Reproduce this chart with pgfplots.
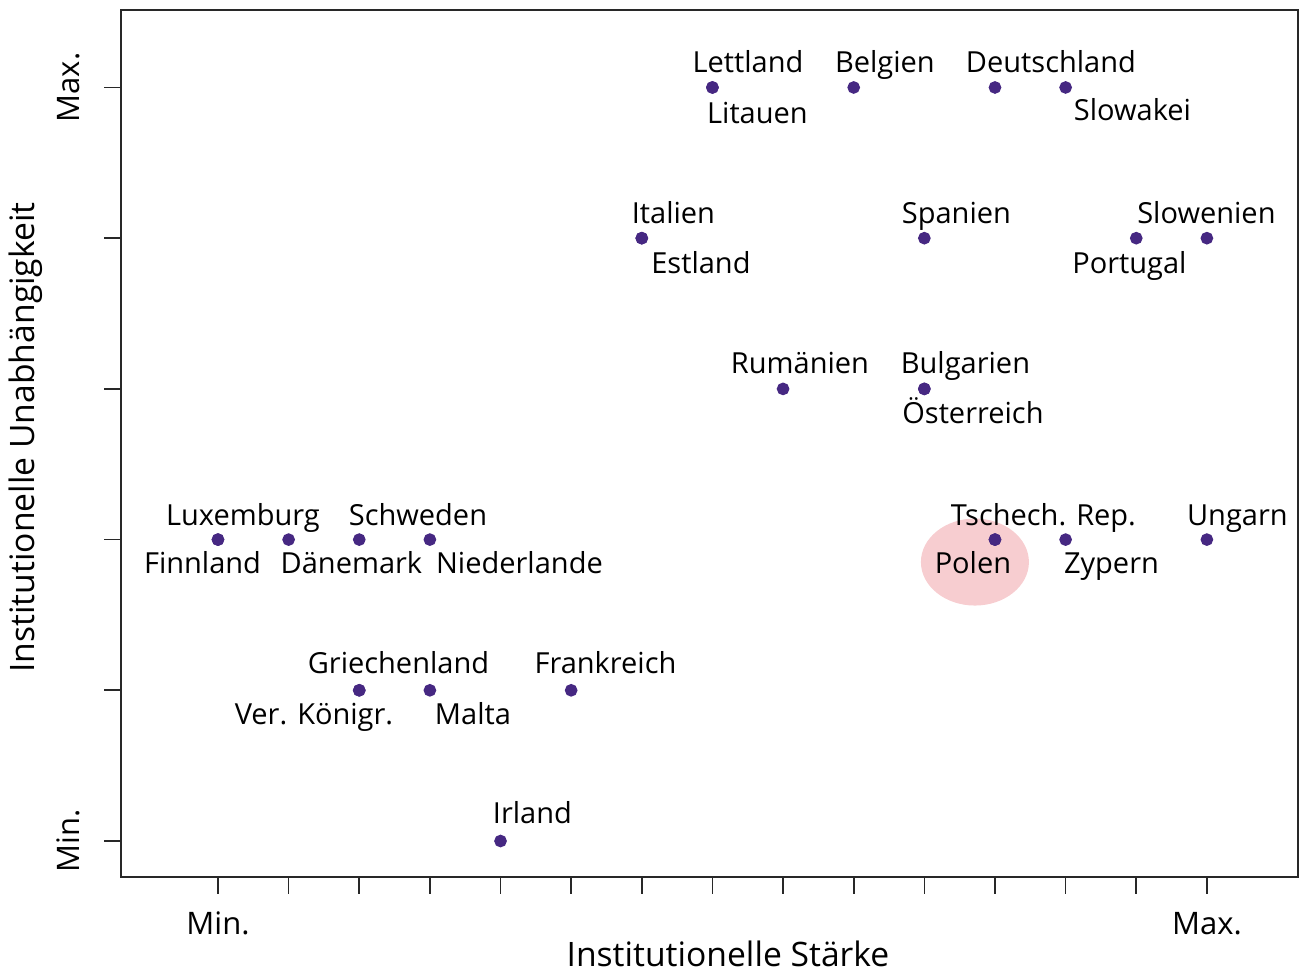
\documentclass[border=0pt]{standalone}
\usepackage{fontspec}
\setmainfont{Open Sans}
\usepackage{pgfplots}
\pgfplotsset{compat=1.18}
\definecolor{ptcol}{RGB}{70,40,130}
\definecolor{pinkc}{RGB}{247,205,208}
\definecolor{axcol}{RGB}{40,40,40}
\begin{document}
\begin{tikzpicture}
\begin{axis}[
  name=ax,
  scale only axis,
  width=353.1pt, height=260.1pt,
  xmin=-1.373, xmax=15.29, ymin=-0.239, ymax=5.514,
  xtick={0,...,14}, xticklabels={Min.,,,,,,,,,,,,,,Max.},
  ytick={0,...,5}, yticklabels={Min.,,,,,Max.},
  tick align=outside, major tick length=5pt,
  xtick pos=lower, ytick pos=left,
  tick style={axcol, line width=0.5pt},
  axis line style={axcol, line width=0.5pt},
  font=\fontsize{8.7}{10}\selectfont,
  xticklabel style={anchor=base, font=\fontsize{9.3}{11}\selectfont},
  xticklabel shift=12.2pt,
  yticklabel style={rotate=90, anchor=base, font=\fontsize{9.3}{11}\selectfont},
  yticklabel shift=7.5pt,
  xlabel={Institutionelle Stärke},
  ylabel={Institutionelle Unabhängigkeit},
  xlabel style={at={(axis description cs:0.5157,0)}, anchor=base, yshift=-26.8pt, font=\fontsize{10.1}{12}\selectfont},
  ylabel style={at={([xshift=-25.8pt]axis description cs:0,0.507)}, rotate=0, anchor=base, font=\fontsize{10.1}{12}\selectfont},
  clip=false,
]
\fill[pinkc] (axis cs:10.716,1.851) ellipse [x radius=16.2pt, y radius=13.05pt];
\addplot[only marks, mark=*, mark size=1.7pt, draw=ptcol, fill=ptcol] table {
x y
7 5
7 5
9 5
11 5
12 5
6 4
6 4
10 4
13 4
14 4
8 3
10 3
10 3
0 2
0 2
1 2
2 2
3 2
11 2
11 2
12 2
14 2
2 1
2 1
3 1
5 1
4 0
};
\addplot[only marks, mark=none, point meta=explicit symbolic,
  nodes near coords,
  every node near coord/.append style={anchor=base, inner sep=0pt, text=black}]
  table[col sep=comma, row sep=\\, meta=label] {
x,y,label\\
7.503,5.099,Lettland\\
7.637,4.764,Litauen\\
9.442,5.099,Belgien\\
11.792,5.099,Deutschland\\
12.946,4.784,Slowakei\\
6.448,4.099,Italien\\
6.837,3.764,Estland\\
10.454,4.099,Spanien\\
13.993,4.099,Slowenien\\
12.903,3.764,Portugal\\
8.239,3.099,Rumänien\\
10.582,3.099,Bulgarien\\
10.688,2.772,Österreich\\
0.354,2.094,Luxemburg\\
2.831,2.094,Schweden\\
-0.219,1.775,Finnland\\
1.890,1.775,Dänemark\\
4.268,1.775,Niederlande\\
11.686,2.094,Tschech. Rep.\\
14.432,2.094,Ungarn\\
10.688,1.775,Polen\\
12.649,1.775,Zypern\\
2.555,1.109,Griechenland\\
5.486,1.109,Frankreich\\
1.359,0.772,Ver. Königr.\\
3.610,0.772,Malta\\
4.452,0.114,Irland\\
};
\end{axis}
\pgfresetboundingbox
\path[use as bounding box] ([xshift=-36.3pt,yshift=-28.2pt]ax.south west) rectangle ([xshift=0.6pt,yshift=3pt]ax.north east);
\end{tikzpicture}
\end{document}
